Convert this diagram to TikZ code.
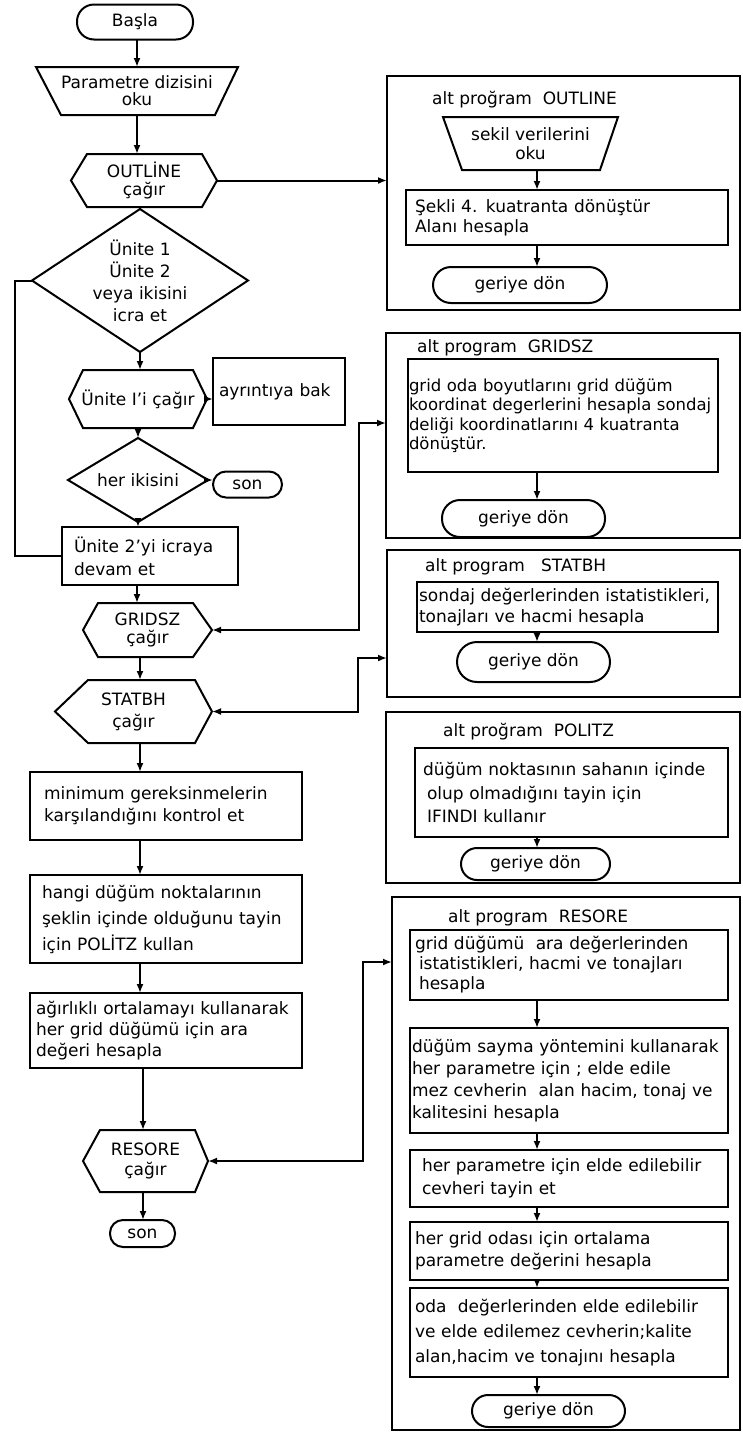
\documentclass[tikz,border=0pt]{standalone}
\usepackage{fontspec}
\setmainfont{DejaVu Sans}
\usetikzlibrary{arrows.meta}
\newcommand\myhex[3]{\draw[thk] (#1.west) -- ([xshift=#2]#1.north west) -- ([xshift=-#3]#1.north east) -- (#1.east) -- ([xshift=-#3]#1.south east) -- ([xshift=#2]#1.south west) -- cycle;}
\newcommand\mydiam[1]{\draw[thk] (#1.north) -- (#1.east) -- (#1.south) -- (#1.west) -- cycle;}
\newcommand\mytrap[3]{\draw[thk] (#1.north west) -- (#1.north east) -- ([xshift=-#3]#1.south east) -- ([xshift=#2]#1.south west) -- cycle;}
\newcommand\fs[1]{\fontsize{17}{#1}\selectfont}
\newcommand\fss[1]{\fontsize{16.5}{#1}\selectfont}
\tikzset{
 thk/.style={line width=2pt},
 base/.style={thk, font=\fs{20}, inner sep=0pt, outer sep=0pt},
 box/.style={base, draw, rectangle, align=left},
 term/.style={base, draw, rectangle, align=center},
 shp/.style={base, draw=none, rectangle, align=center},
 frame/.style={thk, draw, rectangle, inner sep=0pt, outer sep=0pt},
 ttl/.style={font=\fs{20}, anchor=west, inner sep=0pt},
 arr/.style={thk, -{Latex[length=9pt,width=7pt]}},
 arr2/.style={thk, {Latex[length=9pt,width=7pt]}-{Latex[length=9pt,width=7pt]}},
 cline/.style={thk},
}
\begin{document}
\begin{tikzpicture}[x=1pt,y=-1pt]
\useasboundingbox (0,0) rectangle (743,1441);
\fill[white] (0,0) rectangle (743,1441);

% ---------- left column ----------
\node[term, rounded corners=17pt, minimum width=116pt, minimum height=35pt] (start) at (135,22) {Başla};
\node[shp, font=\fs{17}, minimum width=202pt, minimum height=48pt] (par) at (137,91) {Parametre dizisini\\oku};
\mytrap{par}{25pt}{23pt}
\node[shp, font=\fs{18}, minimum width=146pt, minimum height=53pt] (hO) at (144,180.5) {OUTLİNE\\çağır};
\myhex{hO}{16pt}{15pt}
\node[shp, font=\fs{22}, minimum width=216pt, minimum height=143pt] (d1) at (140,280.5) {Ünite 1\\Ünite 2\\veya ikisini\\icra et};
\mydiam{d1}
\node[shp, minimum width=138pt, minimum height=58pt] (hU) at (138,399) {Ünite I'i çağır};
\myhex{hU}{14pt}{14pt}
\node[box, minimum width=132pt, minimum height=67pt, text width=120pt] (ayr) at (279,391.5) {ayrıntıya bak};
\node[shp, minimum width=140pt, minimum height=84pt] (d2) at (138,480) {her ikisini};
\mydiam{d2}
\node[term, rounded corners=13pt, minimum width=69pt, minimum height=26pt] (son1) at (247.5,484.5) {son};
\node[box, font=\fs{23}, minimum width=176pt, minimum height=58pt, text width=152pt] (U2) at (150,556) {Ünite 2'yi icraya\\devam et};
\node[shp, font=\fs{18}, minimum width=129pt, minimum height=54pt] (hG) at (147.5,630) {GRIDSZ\\çağır};
\myhex{hG}{15pt}{19pt}
\node[shp, font=\fs{22}, minimum width=157pt, minimum height=63pt] (hS) at (133.5,711.5) {STATBH\\çağır};
\myhex{hS}{33pt}{17pt}
\node[box, font=\fs{22}, minimum width=272pt, minimum height=68pt, text width=244pt] (bA) at (166,806) {minimum gereksinmelerin\\karşılandığını kontrol et};
\node[box, font=\fs{26}, minimum width=272pt, minimum height=88pt, text width=248pt] (bB) at (166,919) {hangi düğüm noktalarının\\şeklin içinde olduğunu tayin\\için POLİTZ kullan};
\node[box, font=\fs{21}, minimum width=272pt, minimum height=75pt, text width=260pt] (bC) at (166,1030.5) {ağırlıklı ortalamayı kullanarak\\her grid düğümü için ara\\değeri hesapla};
\node[shp, font=\fs{20}, minimum width=125pt, minimum height=62pt] (hR) at (145.5,1161) {RESORE\\çağır};
\myhex{hR}{17pt}{13pt}
\node[term, rounded corners=13pt, minimum width=65pt, minimum height=27pt] (son2) at (142.5,1233.5) {son};

% ---------- right column ----------
\node[frame, minimum width=353pt, minimum height=234pt] (sO) at (563.5,193) {};
\node[ttl] (tiO) at (432,100) {alt proğram~ OUTLINE};
\node[shp, font=\fs{19}, minimum width=175pt, minimum height=53pt] (sek) at (530.5,143.5) {sekil verilerini\\oku};
\mytrap{sek}{19pt}{18pt}
\node[box, minimum width=322pt, minimum height=55pt, text width=304pt] (bO1) at (567,217.5) {Şekli 4. kuatranta dönüştür\\Alanı hesapla};
\node[term, rounded corners=18pt, minimum width=174pt, minimum height=36pt] (gO) at (520,285) {geriye dön};

\node[frame, minimum width=354pt, minimum height=205pt] (sG) at (563,435.5) {};
\node[ttl] (tiG) at (417,348) {alt program~ GRIDSZ};
\node[box, font=\fss{19.5}, minimum width=310pt, minimum height=113pt, text width=308pt] (bG1) at (563,415.5) {grid oda boyutlarını grid düğüm\\koordinat degerlerini hesapla sondaj\\deliği koordinatlarını 4 kuatranta\\dönüştür.};
\node[term, rounded corners=18pt, minimum width=163pt, minimum height=37pt] (gG) at (523.5,518.5) {geriye dön};

\node[frame, minimum width=353pt, minimum height=147pt] (sS) at (563.5,623.5) {};
\node[ttl] (tiS) at (425,567) {alt program~~ STATBH};
\node[box, font=\fs{21}, minimum width=301pt, minimum height=50pt, text width=297pt] (bS1) at (567.5,607) {sondaj değerlerinden istatistikleri,\\tonajları ve hacmi hesapla};
\node[term, rounded corners=20pt, minimum width=153pt, minimum height=40pt] (gS) at (533.5,662) {geriye dön};

\node[frame, minimum width=354pt, minimum height=171pt] (sP) at (563,797.5) {};
\node[ttl] (tiP) at (443,732) {alt proğram~ POLITZ};
\node[box, font=\fs{23.5}, minimum width=313pt, minimum height=89pt, text width=297pt] (bP1) at (571.5,792.5) {düğüm noktasının sahanın içinde\\\hspace*{4pt}olup olmadığını tayin için\\\hspace*{4pt}IFINDI kullanır};
\node[term, rounded corners=16pt, minimum width=149pt, minimum height=32pt] (gP) at (535.5,864) {geriye dön};

\node[frame, minimum width=348pt, minimum height=533pt] (sR) at (566,1163.5) {};
\node[ttl] (tiR) at (448,918) {alt program~ RESORE};
\node[box, font=\fs{20}, minimum width=318pt, minimum height=70pt, text width=308pt] (bR1) at (569,965) {grid düğümü~ ara değerlerinden\\\hspace*{4pt}istatistikleri, hacmi ve tonajları\\\hspace*{4pt}hesapla};
\node[box, font=\fs{22}, minimum width=318pt, minimum height=105pt, text width=314pt] (bR2) at (569,1080.5) {düğüm sayma yöntemini kullanarak\\her parametre için ; elde edile\\mez cevherin~ alan hacim, tonaj ve\\kalitesini hesapla};
\node[box, font=\fs{23}, minimum width=318pt, minimum height=57pt, text width=294pt] (bR3) at (569,1178.5) {her parametre için elde edilebilir\\cevheri tayin et};
\node[box, font=\fs{22}, minimum width=318pt, minimum height=58pt, text width=308pt] (bR4) at (569,1251) {her grid odası için ortalama\\parametre değerini hesapla};
\node[box, font=\fs{25}, minimum width=318pt, minimum height=89pt, text width=308pt] (bR5) at (569,1332.5) {oda~ değerlerinden elde edilebilir\\ve elde edilemez cevherin;kalite\\alan,hacim ve tonajını hesapla};
\node[term, rounded corners=16pt, minimum width=153pt, minimum height=32pt] (gR) at (548.5,1411) {geriye dön};

% ---------- connectors ----------
\coordinate (L1) at (137,0);
\coordinate (L2) at (140,0);
\coordinate (L3) at (143,0);
\coordinate (R) at (537,0);
\coordinate (lk) at (15,280);
\coordinate (gk) at (359,423);
\coordinate (sk) at (358,658);
\coordinate (rk) at (363,962);

\draw[arr] (start.south -| L1) -- (par.north -| L1);
\draw[arr] (par.south -| L1) -- (hO.north -| L1);
\draw[cline] (hO.south -| d1.north) -- (d1.north);
\draw[arr] (d1.south) -- (d1.south |- hU.north);
\draw[arr] (hU.east) -- (hU.east -| ayr.west);
\draw[arr] (hU.south) -- (d2.north);
\draw[arr] (d2.east) -- (d2.east -| son1.west);
\draw[arr] (d2.south) -- (d2.south |- U2.north);
\draw[cline] (d1.west) -- (d1.west -| lk) |- (U2.west);
\draw[arr] (U2.south -| L1) -- (hG.north -| L1);
\draw[arr] (hG.south -| L2) -- (hS.north -| L2);
\draw[arr] (hS.south -| L2) -- (bA.north -| L2);
\draw[arr] (bA.south -| L2) -- (bB.north -| L2);
\draw[arr] (bB.south -| L2) -- (bC.north -| L2);
\draw[arr] (bC.south -| L3) -- (hR.north -| L3);
\draw[arr] (hR.south -| L3) -- (son2.north -| L3);

\draw[arr] (hO.east) -- (hO.east -| sO.west);
\draw[arr2] (hG.east) -| (gk) -- (gk -| sG.west);
\draw[arr2] (hS.east) -| (sk) -- (sk -| sS.west);
\draw[arr2] (hR.east) -| (rk) -- (rk -| sR.west);

\draw[arr] (sek.south -| R) -- (bO1.north -| R);
\draw[arr] (bO1.south -| R) -- (gO.north -| R);
\draw[arr] (bG1.south -| R) -- (gG.north -| R);
\draw[arr] (bS1.south -| R) -- (gS.north -| R);
\draw[arr] (bP1.south -| R) -- (gP.north -| R);
\draw[arr] (bR1.south -| R) -- (bR2.north -| R);
\draw[arr] (bR2.south -| R) -- (bR3.north -| R);
\draw[arr] (bR3.south -| R) -- (bR4.north -| R);
\draw[arr] (bR4.south -| R) -- (bR5.north -| R);
\draw[arr] (bR5.south -| R) -- (gR.north -| R);
\end{tikzpicture}
\end{document}
